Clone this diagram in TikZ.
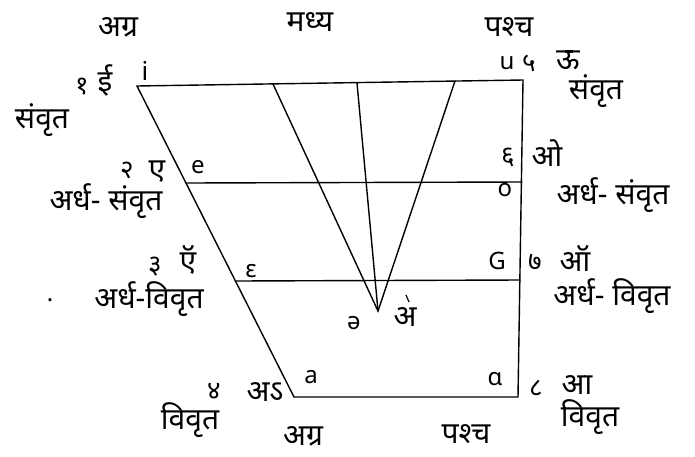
\documentclass[tikz,border=0pt]{standalone}
\usepackage{fontspec}
\setmainfont{Noto Sans}
\newfontfamily\dev[Script=Devanagari]{Noto Sans}
\begin{document}
\begin{tikzpicture}[x=1pt,y=-1pt,
  edge/.style={line width=1.4pt,line cap=round},
  dv/.style={inner sep=0pt,font=\dev\fontsize{30}{30}\selectfont},
  lat/.style={inner sep=0pt,font=\fontsize{24}{24}\selectfont},
  num/.style={inner sep=0pt,font=\dev\fontsize{26}{26}\selectfont}]
\useasboundingbox (0,0) rectangle (695,456);
% corners
\coordinate (TL) at (137,86);
\coordinate (TR) at (523,80);
\coordinate (BR) at (518,397);
\coordinate (BL) at (294,397);
\coordinate (L1) at (186,183);
\coordinate (R1) at (522,182);
\coordinate (L2) at (235,281);
\coordinate (R2) at (520,280);
\coordinate (T1) at (273,84);
\coordinate (T2) at (357,83);
\coordinate (T3) at (455,81);
\coordinate (A) at (378,311);
\draw[edge] (TL) -- (TR) -- (BR) -- (BL) -- cycle;
\draw[edge] (L1) -- (R1);
\draw[edge] (L2) -- (R2);
\draw[edge] (T1) -- (A) -- (T3);
\draw[edge] (T2) -- (A);
% headings
\node[dv] (h1) at (118,27) {अग्र};
\node[dv] (h2) at (310,22) {मध्य};
\node[dv] (h3) at (509,27) {पश्च};
\node[dv] (h4) at (303,436) {अग्र};
\node[dv] (h5) at (466,434) {पश्च};
% close
\node[num] (n1) at (82,87) {१};
\node[dv] (v1) at (105,80) {ई};
\node[lat,font=\fontsize{26}{26}\selectfont] (i1) at (145,71) {i};
\node[dv] (s1) at (42,120) {संवृत};
\node[lat] (i5) at (507,63) {u};
\node[num] (n5) at (529,63) {५};
\node[dv] (v5) at (568,60) {ऊ};
\node[dv] (s5) at (596,91) {संवृत};
% half close
\node[num] (n2) at (127,170) {२};
\node[dv] (v2) at (157,172) {ए};
\node[lat] (i2) at (198,167) {e};
\node[dv] (s2) at (106,201) {अर्ध- संवृत};
\node[num] (n6) at (508,157) {६};
\node[dv] (v6) at (547,153) {ओ};
\node[lat] (i6) at (505,190) {o};
\node[dv] (s6) at (613,195) {अर्ध- संवृत};
% half open
\node[num] (n3) at (155,267) {३};
\node[dv] (v3) at (188,260) {ऍ};
\node[lat] (i3) at (251,271) {ε};
\node[inner sep=0pt,font=\fontsize{24}{24}\selectfont] (dot) at (50,300) {.};
\node[dv] (s3) at (149,299) {अर्ध-विवृत};
\node[lat] (i7) at (497,261) {G};
\node[num] (n7) at (535,262) {७};
\node[dv] (v7) at (575,258) {ऑ};
\node[dv] (s7) at (612,296) {अर्ध- विवृत};
% central
\node[lat] (ic) at (354,323) {ə};
\node[dv] (vc) at (405,317) {अ};
\draw[line width=1.2pt] (406,295) -- (409,302);
% open
\node[num] (n4) at (214,391) {४};
\node[dv] (v4) at (265,392) {अऽ};
\node[lat] (i4) at (311,377) {a};
\node[dv] (s4) at (190,420) {विवृत};
\node[lat] (i8) at (495,379) {ɑ};
\node[num] (n8) at (536,388) {८};
\node[dv] (v8) at (577,385) {आ};
\node[dv] (s8) at (590,417) {विवृत};
\end{tikzpicture}
\end{document}
